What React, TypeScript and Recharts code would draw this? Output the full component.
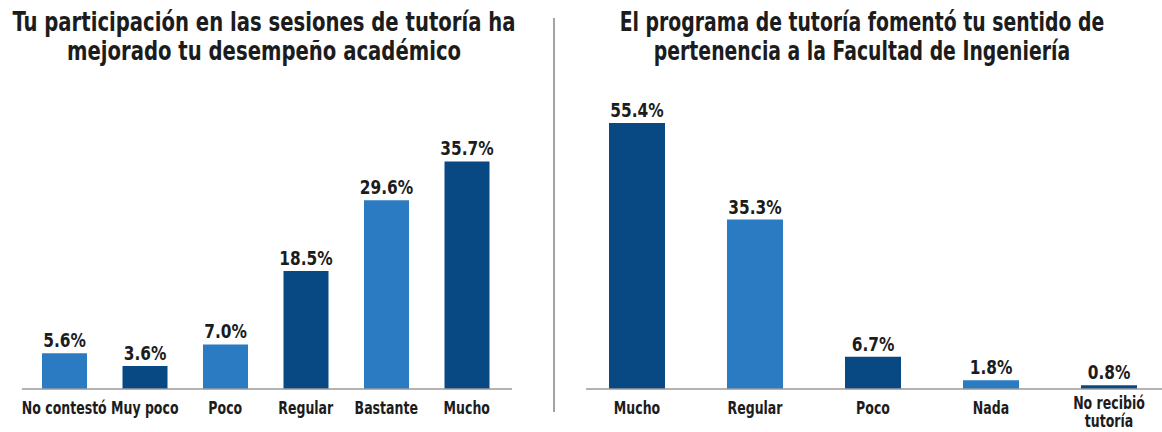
import React from 'react';
import { BarChart, Bar, XAxis, YAxis, LabelList, Cell } from 'recharts';

const leftCategories = ['No contestó', 'Muy poco', 'Poco', 'Regular', 'Bastante', 'Mucho'];
const leftValues = [5.6, 3.6, 7.0, 18.5, 29.6, 35.7];

const rightCategories = ['Mucho', 'Regular', 'Poco', 'Nada', 'No recibió\ntutoría'];
const rightValues = [55.4, 35.3, 6.7, 1.8, 0.8];

const leftTitle = ['Tu participación en las sesiones de tutoría ha', 'mejorado tu desempeño académico'];
const rightTitle = ['El programa de tutoría fomentó tu sentido de', 'pertenencia a la Facultad de Ingeniería'];

const FONT = "'DejaVu Sans Condensed', 'Roboto', sans-serif";
const LIGHT = '#2b7bc3';
const DARK = '#084883';
const TEXT = '#1c1c1c';

const leftData = leftCategories.map((name, i) => ({ name, value: leftValues[i] }));
const rightData = rightCategories.map((name, i) => ({ name, value: rightValues[i] }));

const fmt = (v: any) => `${Number(v).toFixed(1)}%`;

// condensed tick labels, squeezed horizontally to look like the narrow source font
const Tick = (props: any) => {
  const { x, y, payload } = props;
  const lines = String(payload.value).split('\n');
  return (
    <g transform={`translate(${x},${y}) scale(0.82,1)`}>
      <text x={0} y={0} textAnchor="middle" fill={TEXT} fontFamily={FONT} fontSize={17} fontWeight={700}>
        {lines.map((l, i) => (
          <tspan key={i} x={0} dy={i === 0 ? (lines.length > 1 ? 12 : 17) : 18}>{l}</tspan>
        ))}
      </text>
    </g>
  );
};

const ValueLabel = (props: any) => {
  const { x, y, width, value } = props;
  return (
    <g transform={`translate(${x + width / 2},${y - 6}) scale(0.9,1)`}>
      <text x={0} y={0} textAnchor="middle" fill={TEXT} fontFamily={FONT} fontSize={19} fontWeight={700}>
        {fmt(value)}
      </text>
    </g>
  );
};

const Title = ({ lines, center, squeeze }: { lines: string[]; center: number; squeeze: number }) => (
  <div
    style={{
      position: 'absolute',
      left: center - 400,
      top: 8,
      width: 800,
      textAlign: 'center',
      fontFamily: FONT,
      fontWeight: 700,
      fontSize: 26,
      lineHeight: '29px',
      color: TEXT,
      whiteSpace: 'nowrap',
      transform: `scaleX(${squeeze})`,
      transformOrigin: 'center',
    }}
  >
    {lines.map((l, i) => (
      <div key={i}>{l}</div>
    ))}
  </div>
);

export default function App() {
  return (
    <div style={{ position: 'absolute', left: 0, top: 0, width: 1162, height: 432, background: '#fff', overflow: 'hidden' }}>
      <Title lines={leftTitle} center={264} squeeze={0.84} />
      <Title lines={rightTitle} center={862} squeeze={0.805} />

      <div style={{ position: 'absolute', left: 553, top: 18, width: 2, height: 394, background: '#a3a3a3' }} />

      <div style={{ position: 'absolute', left: 0, top: 0 }}>
        <BarChart width={540} height={432} data={leftData} margin={{ top: 134, right: 28, bottom: 13, left: 22 }}>
          <XAxis
            dataKey="name"
            height={30}
            tickLine={false}
            axisLine={{ stroke: '#9a9a9a', strokeWidth: 1.5 }}
            tick={<Tick />}
            interval={0}
            padding={{ left: 2, right: 5 }}
          />
          <YAxis hide domain={[0, 40]} />
          <Bar dataKey="value" barSize={45} isAnimationActive={false}>
            {leftData.map((_, i) => (
              <Cell key={i} fill={i % 2 === 0 ? LIGHT : DARK} />
            ))}
            <LabelList dataKey="value" content={<ValueLabel />} />
          </Bar>
        </BarChart>
      </div>

      <div style={{ position: 'absolute', left: 560, top: 0 }}>
        <BarChart width={602} height={432} data={rightData} margin={{ top: 101, right: 0, bottom: 13, left: 26 }}>
          <XAxis
            dataKey="name"
            height={30}
            tickLine={false}
            axisLine={{ stroke: '#9a9a9a', strokeWidth: 1.5 }}
            tick={<Tick />}
            interval={0}
            padding={{ left: -8, right: -6 }}
          />
          <YAxis hide domain={[0, 60]} />
          <Bar dataKey="value" barSize={56} isAnimationActive={false}>
            {rightData.map((_, i) => (
              <Cell key={i} fill={i % 2 === 0 ? DARK : LIGHT} />
            ))}
            <LabelList dataKey="value" content={<ValueLabel />} />
          </Bar>
        </BarChart>
      </div>
    </div>
  );
}
